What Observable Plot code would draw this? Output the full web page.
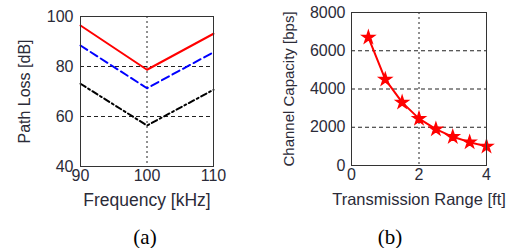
<!DOCTYPE html>
<html><head><meta charset="utf-8">
<script src="https://cdn.jsdelivr.net/npm/d3@7"></script>
<script src="https://cdn.jsdelivr.net/npm/@observablehq/plot@0.6"></script>
<style>
html,body{margin:0;padding:0;background:#fff;}
#wrap{position:relative;width:511px;height:248px;overflow:hidden;}
#a,#b{position:absolute;top:0;}
#a{left:0;} #b{left:255px;}
.cap{position:absolute;top:225px;font-family:"Liberation Serif","DejaVu Serif",serif;font-size:21px;line-height:24px;color:#000;transform:translateX(-50%);}
</style></head>
<body><div id="wrap"><div id="a"></div><div id="b"></div>
<div class="cap" style="left:145px">(a)</div>
<div class="cap" style="left:390px">(b)</div></div>
<script>
const freq = [90, 100, 110];
const redLoss = [96.4, 78.7, 93.1];
const blueLoss = [88.4, 71.3, 85.7];
const blackLoss = [73.1, 56.4, 70.7];
const lossTicks = [40, 60, 80, 100];
const freqTicks = [90, 100, 110];

const range = [0.5, 1, 1.5, 2, 2.5, 3, 3.5, 4];
const capacity = [6700, 4500, 3300, 2450, 1900, 1500, 1220, 1000];
const capTicks = [0, 2000, 4000, 6000, 8000];
const rangeTicks = [0, 2, 4];

const font = {fontFamily: "'Liberation Sans', Arial, sans-serif", fontSize: "16px", color: "#2b2b38", background: "transparent", overflow: "visible"};
const fmt = d3.format("d");

const chartA = Plot.plot({
  width: 255, height: 210,
  marginLeft: 80, marginRight: 42, marginTop: 16, marginBottom: 44,
  style: font,
  x: {domain: [90, 110]},
  y: {domain: [40, 100]},
  marks: [
    Plot.gridY([60, 80], {stroke: "#222", strokeOpacity: 1, strokeDasharray: "4,3"}),
    Plot.gridX([100], {stroke: "#222", strokeOpacity: 1, strokeDasharray: "2,3"}),
    Plot.axisX({ticks: freqTicks, tickSize: 0, tickPadding: 3, tickFormat: fmt, label: null, fontSize: 16}),
    Plot.axisX({ticks: [], label: "Frequency [kHz]", labelAnchor: "center", labelArrow: "none", labelOffset: 39, fontSize: 17.5}),
    Plot.axisY({ticks: lossTicks, tickSize: 0, tickPadding: 7, tickFormat: fmt, label: null, fontSize: 16}),
    Plot.axisY({ticks: [], label: "Path Loss [dB]", labelAnchor: "center", labelArrow: "none", labelOffset: 62, fontSize: 16}),
    Plot.lineY(blackLoss, {x: freq, stroke: "#000", strokeWidth: 2, strokeDasharray: "6,3,2,3"}),
    Plot.lineY(blueLoss, {x: freq, stroke: "#0000ff", strokeWidth: 2, strokeDasharray: "8,4"}),
    Plot.lineY(redLoss, {x: freq, stroke: "#ff0000", strokeWidth: 2}),
    Plot.frame({stroke: "#333"})
  ]
});
document.getElementById("a").append(chartA);

const chartB = Plot.plot({
  width: 256, height: 210,
  marginLeft: 96, marginRight: 25, marginTop: 12, marginBottom: 45,
  style: font,
  x: {domain: [0, 4]},
  y: {domain: [0, 8000]},
  marks: [
    Plot.gridY([2000, 4000, 6000], {stroke: "#222", strokeOpacity: 1, strokeDasharray: "4,3"}),
    Plot.gridX([2], {stroke: "#222", strokeOpacity: 1, strokeDasharray: "2,3"}),
    Plot.axisX({ticks: rangeTicks, tickSize: 0, tickPadding: 3, tickFormat: fmt, label: null, fontSize: 16}),
    Plot.axisX({ticks: [], label: "Transmission Range [ft]", labelAnchor: "center", labelArrow: "none", labelOffset: 39, fontSize: 16.5}),
    Plot.axisY({ticks: capTicks, tickSize: 0, tickPadding: 6, tickFormat: fmt, label: null, fontSize: 16}),
    Plot.axisY({ticks: [], label: "Channel Capacity [bps]", labelAnchor: "center", labelArrow: "none", labelOffset: 68, fontSize: 15}),
    Plot.lineY(capacity, {x: range, stroke: "#ff0000", strokeWidth: 2}),
    Plot.dot(capacity, {x: range, y: d => d, symbol: "star", r: 3.8, fill: "#ff0000", stroke: "#ff0000", strokeWidth: 1.5}),
    Plot.frame({stroke: "#333"})
  ]
});
document.getElementById("b").append(chartB);
</script></body></html>
